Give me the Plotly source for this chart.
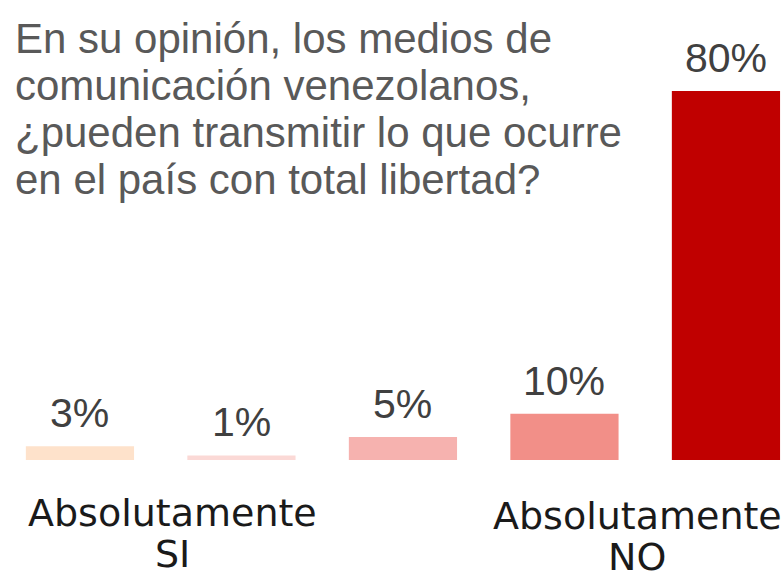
import plotly.graph_objects as go

categories = ["Absolutamente SI", "Opción 2", "Opción 3", "Opción 4", "Absolutamente NO"]
values = [3, 1, 5, 10, 80]
value_labels = ["3%", "1%", "5%", "10%", "80%"]
bar_colors = ["#FEE2CB", "#FBD9D6", "#F6B2AF", "#F28F88", "#C00000"]
title_lines = [
    "En su opinión, los medios de",
    "comunicación venezolanos,",
    "¿pueden transmitir lo que ocurre",
    "en el país con total libertad?",
]
end_labels = [("Absolutamente", "SI"), ("Absolutamente", "NO")]

fig = go.Figure()
fig.add_trace(go.Bar(
    x=categories, y=values,
    marker=dict(color=bar_colors, line=dict(width=0)),
    width=0.67,
    hoverinfo="skip",
))

annotations = []
for c, v, t in zip(categories, values, value_labels):
    annotations.append(dict(
        x=c, y=v, xref="x", yref="y", text=t, showarrow=False,
        yanchor="bottom", yshift=8,
        font=dict(family="Liberation Sans, Arial, sans-serif", size=41, color="#404040"),
    ))

for i, line in enumerate(title_lines):
    annotations.append(dict(
        x=0, y=1, xref="paper", yref="paper", text=line, showarrow=False,
        xanchor="left", yanchor="middle", xshift=13, yshift=-38 - 47 * i,
        font=dict(family="Liberation Sans, Arial, sans-serif", size=42, color="#595959"),
    ))

label_pos = [(0.57, 0), (3.45, 3)]
for (xpos, dy), (l1, l2) in zip(label_pos, end_labels):
    annotations.append(dict(
        x=xpos, y=0, xref="x", yref="paper", text=l1, showarrow=False,
        xanchor="center", yanchor="middle", yshift=-53 - dy,
        font=dict(family="DejaVu Sans, sans-serif", size=38, color="#1a1a1a"),
    ))
    annotations.append(dict(
        x=xpos, y=0, xref="x", yref="paper", text=l2, showarrow=False,
        xanchor="center", yanchor="middle", yshift=-94 - dy,
        font=dict(family="DejaVu Sans, sans-serif", size=38, color="#1a1a1a"),
    ))

fig.update_layout(
    width=782, height=577,
    margin=dict(l=0, r=0, t=0, b=117),
    paper_bgcolor="white", plot_bgcolor="white",
    showlegend=False,
    xaxis=dict(type="category", range=[-0.495, 4.347], showticklabels=False,
               showgrid=False, zeroline=False, showline=False, ticks=""),
    yaxis=dict(range=[0, 99.7], visible=False, showgrid=False, zeroline=False),
    annotations=annotations,
)

fig.write_html("out.html", config={"displayModeBar": False},
               post_script="document.body.style.margin='0';document.body.style.overflow='hidden';")
